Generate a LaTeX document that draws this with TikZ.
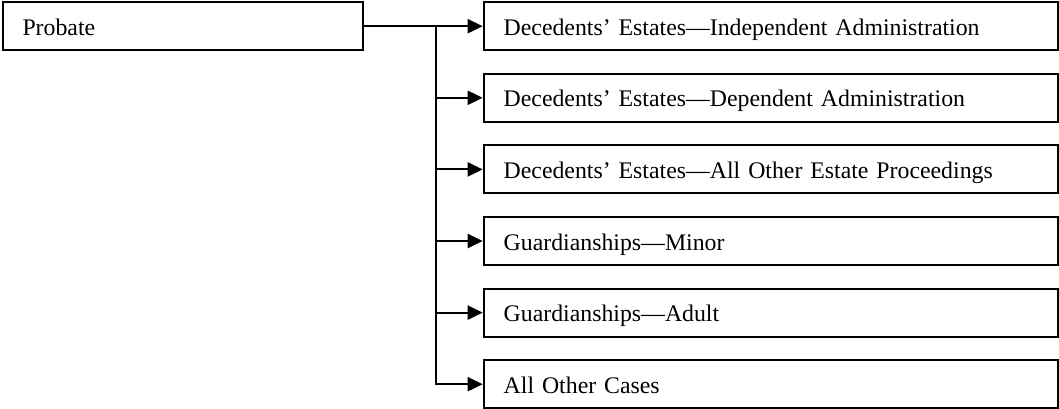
\documentclass[tikz,border=0pt]{standalone}
\usepackage{fontspec}
\setmainfont{Liberation Serif}
\usetikzlibrary{arrows.meta}
\begin{document}
\begin{tikzpicture}[x=1pt,y=1pt,
  box/.style={draw,line width=2pt,anchor=north west,inner xsep=20pt,inner ysep=0pt,
    minimum height=48pt,align=left,text height=22pt,text depth=4pt,
    font=\fontsize{23.8}{28}\selectfont},
  conn/.style={line width=2pt},
  arr/.style={conn,-{Triangle[length=15pt,width=14pt]}}]
\useasboundingbox (0,0) rectangle (1059,-408);
\node[box,text width=320pt] (probate) at (1.5,-1.2) {Probate};
\foreach \i/\t in {1/{Decedents’ Estates—Independent Administration},
                   2/{Decedents’ Estates—Dependent Administration},
                   3/{Decedents’ Estates—All Other Estate Proceedings},
                   4/{Guardianships—Minor},
                   5/{Guardianships—Adult},
                   6/{All Other Cases}}{
  \node[box,text width=534pt] (b\i) at (482.7,{-1.2-71.6*(\i-1)}) {\t};
}
\coordinate (j) at (435.5,0|-probate.east);
\draw[arr] (probate.east) -- (b1.west);
\foreach \i in {2,...,6}{
  \draw[arr] (j) |- (b\i.west);
}
\end{tikzpicture}
\end{document}
